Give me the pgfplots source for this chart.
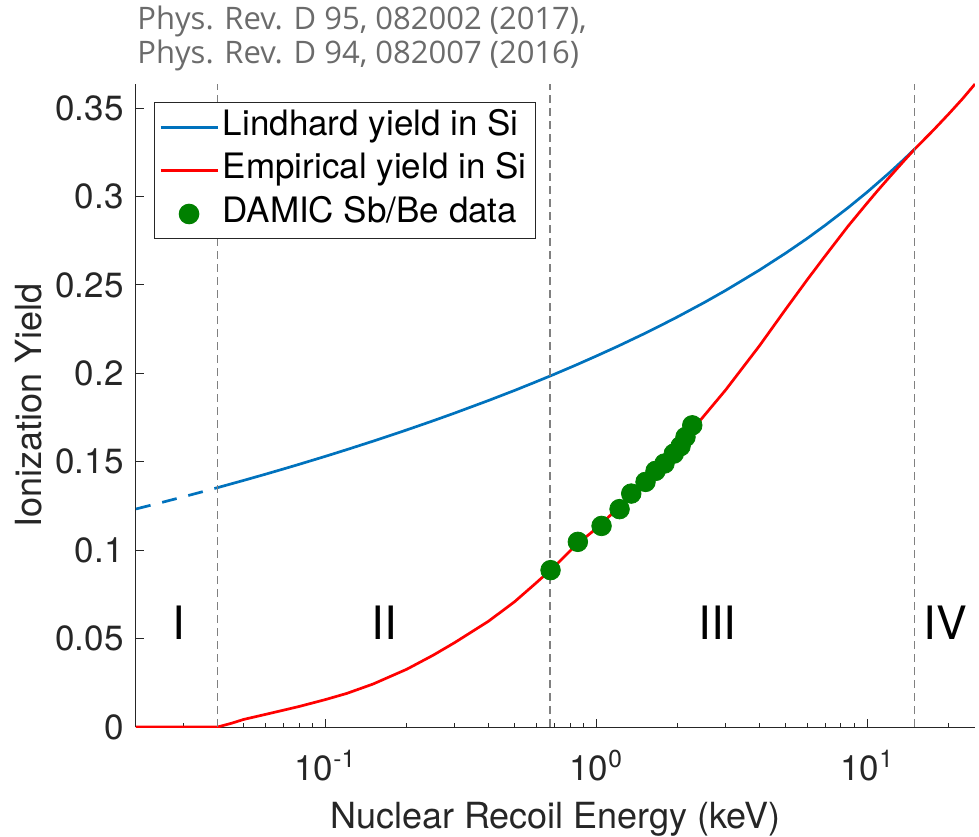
\documentclass[border=0pt]{standalone}
\usepackage{pgfplots}
\pgfplotsset{compat=1.18}
\usepackage{fontspec}
\setmainfont{TeX Gyre Heros}
\newfontfamily\titlefont{Open Sans}
\definecolor{mblue}{rgb}{0,0.447,0.741}
\definecolor{mgreen}{rgb}{0,0.5,0}
\definecolor{axgray}{rgb}{0.15,0.15,0.15}
\definecolor{titlegray}{rgb}{0.42,0.42,0.42}
\pgfplotsset{dotlegend/.style={legend image code/.code={\draw[##1] plot coordinates {(14.25pt,0pt)};}}}
\begin{document}
\begin{tikzpicture}
\begin{axis}[
  name=ax, at={(0,0)}, anchor=south west,
  scale only axis, width=419.5pt, height=321.5pt,
  xmode=log, xmin=0.02, xmax=25, ymin=0, ymax=0.3636,
  axis x line*=bottom, axis y line*=left,
  axis line style={axgray, line width=0.5pt, -},
  xtick pos=bottom, ytick pos=left,
  tick style={axgray, line width=0.5pt},
  tick align=inside,
  major tick length=4pt, minor tick length=2pt,
  xtick={0.1,1,10},
  minor xtick={0.03,0.04,0.05,0.06,0.07,0.08,0.09,0.2,0.3,0.4,0.5,0.6,0.7,0.8,0.9,2,3,4,5,6,7,8,9,20},
  xticklabels={10\textsuperscript{-1},10\textsuperscript{0},10\textsuperscript{1}},
  ytick={0,0.05,0.1,0.15,0.2,0.25,0.3,0.35},
  yticklabels={0,0.05,0.1,0.15,0.2,0.25,0.3,0.35},
  ticklabel style={font=\fontsize{17.5}{21}\selectfont, text=axgray},
  xticklabel style={anchor=base, inner sep=0pt, yshift=-26.5pt},
  yticklabel style={anchor=east, inner sep=0pt, xshift=-6pt},
  xlabel={Nuclear Recoil Energy (keV)},
  ylabel={Ionization Yield},
  label style={font=\fontsize{18}{21}\selectfont, text=axgray},
  xlabel style={at={(axis description cs:0.5,0)}, anchor=base, inner sep=0pt, yshift=-50.5pt},
  ylabel style={at={(axis description cs:0,0.5)}, anchor=base, inner sep=0pt, yshift=47pt},
  legend style={at={(rel axis cs:0,1)}, anchor=north west, xshift=9pt, yshift=-9pt,
    draw=axgray, line width=0.5pt, fill=white, inner xsep=2.35pt, inner ysep=1.5pt,
    row sep=0pt,
    nodes={inner xsep=2pt, inner ysep=2.5pt, text height=12.5pt, text depth=4.2pt,
      font=\fontsize{17.5}{21}\selectfont}},
  legend cell align=left,
  legend image code/.code={\draw[#1] (0pt,0pt) -- (28.5pt,0pt);},
]
% Lindhard yield (k = 0.146), dashed part in region I
\addplot[mblue, line width=1.35pt, dash pattern=on 7.5pt off 6pt, forget plot] coordinates {
 (0.02,0.12329) (0.025,0.12706) (0.03,0.13022) (0.035,0.13294) (0.04,0.13535)};
% Lindhard yield, solid part
\addplot[mblue, line width=1.35pt] coordinates {
 (0.04,0.13535) (0.05,0.13947) (0.06,0.14291) (0.07,0.14590) (0.08,0.14854) (0.1,0.15305)
 (0.12,0.15685) (0.15,0.16163) (0.2,0.16802) (0.25,0.17317) (0.3,0.17751) (0.4,0.18462)
 (0.5,0.19035) (0.6,0.19524) (0.7,0.19945) (0.85,0.20497) (1,0.20976) (1.2,0.21527)
 (1.5,0.22234) (1.75,0.22746) (2,0.23201) (2.5,0.23998) (3,0.24683) (4,0.25835)
 (5,0.26794) (6,0.27624) (7,0.28372) (8.5,0.29364) (10,0.30248) (12,0.31302)
 (13.5,0.32021) (15,0.32692)};
\addlegendentry{Lindhard yield in Si}
% Empirical yield
\addplot[red, line width=1.35pt] coordinates {
 (0.02,0) (0.04,0) (0.045,0.0021) (0.05,0.0043) (0.06,0.0071) (0.07,0.0095) (0.08,0.0116)
 (0.1,0.0155) (0.12,0.0190) (0.15,0.0243) (0.2,0.0327) (0.25,0.0406) (0.3,0.0477)
 (0.4,0.0598) (0.5,0.0709) (0.6,0.0815) (0.7,0.0907) (0.85,0.1035) (1.0,0.1122)
 (1.25,0.1262) (1.5,0.1389) (1.75,0.1492) (2.0,0.1582) (2.5,0.1760) (3.0,0.1905)
 (4.0,0.2155) (5.0,0.2362) (6.0,0.2528) (7.0,0.2664) (8.5,0.2832) (10,0.2963)
 (11,0.3038) (12,0.3104) (13.5,0.3192) (15,0.32692) (17.5,0.33727) (20,0.34667)
 (22.5,0.35528) (25,0.36358)};
\addlegendentry{Empirical yield in Si}
% DAMIC Sb/Be data
\addplot[only marks, mark=*, mark size=4.9pt, mgreen, mark options={draw=mgreen, fill=mgreen}, dotlegend] coordinates {
 (0.678,0.0887) (0.855,0.1047) (1.046,0.1137) (1.219,0.1232) (1.346,0.1320) (1.520,0.1386)
 (1.655,0.1448) (1.786,0.1490) (1.933,0.1546) (2.047,0.1588) (2.135,0.1640) (2.261,0.1706)};
\addlegendentry{DAMIC Sb/Be data}
% region boundaries
\addplot[gray, line width=0.6pt, dash pattern=on 4pt off 2.5pt, forget plot] coordinates {(0.04,0) (0.04,0.3636)};
\addplot[gray, line width=0.6pt, dash pattern=on 4pt off 2.5pt, forget plot] coordinates {(0.675,0) (0.675,0.3636)};
\addplot[gray, line width=0.6pt, dash pattern=on 4pt off 2.5pt, forget plot] coordinates {(15,0) (15,0.3636)};
% region labels
\node[font=\fontsize{23}{27}\selectfont, inner sep=0pt] at (axis cs:0.02868,0.059) {I};
\node[font=\fontsize{23}{27}\selectfont, inner sep=0pt] at (axis cs:0.1648,0.059) {II};
\node[font=\fontsize{23}{27}\selectfont, inner sep=0pt] at (axis cs:2.80,0.059) {III};
\node[font=\fontsize{23}{27}\selectfont, inner sep=0pt] at (axis cs:19.46,0.059) {IV};
\end{axis}
\node[anchor=base west, inner sep=0pt, text=titlegray, font=\titlefont\fontsize{15.5}{18}\selectfont]
  at ([xshift=0.5pt,yshift=27pt]ax.north west) {Phys. Rev. D 95, 082002 (2017),};
\node[anchor=base west, inner sep=0pt, text=titlegray, font=\titlefont\fontsize{15.5}{18}\selectfont]
  at ([xshift=0.5pt,yshift=10pt]ax.north west) {Phys. Rev. D 94, 082007 (2016)};
\pgfresetboundingbox
\useasboundingbox (-68pt,-54.5pt) rectangle (421.5pt,363.5pt);
\end{tikzpicture}
\end{document}
